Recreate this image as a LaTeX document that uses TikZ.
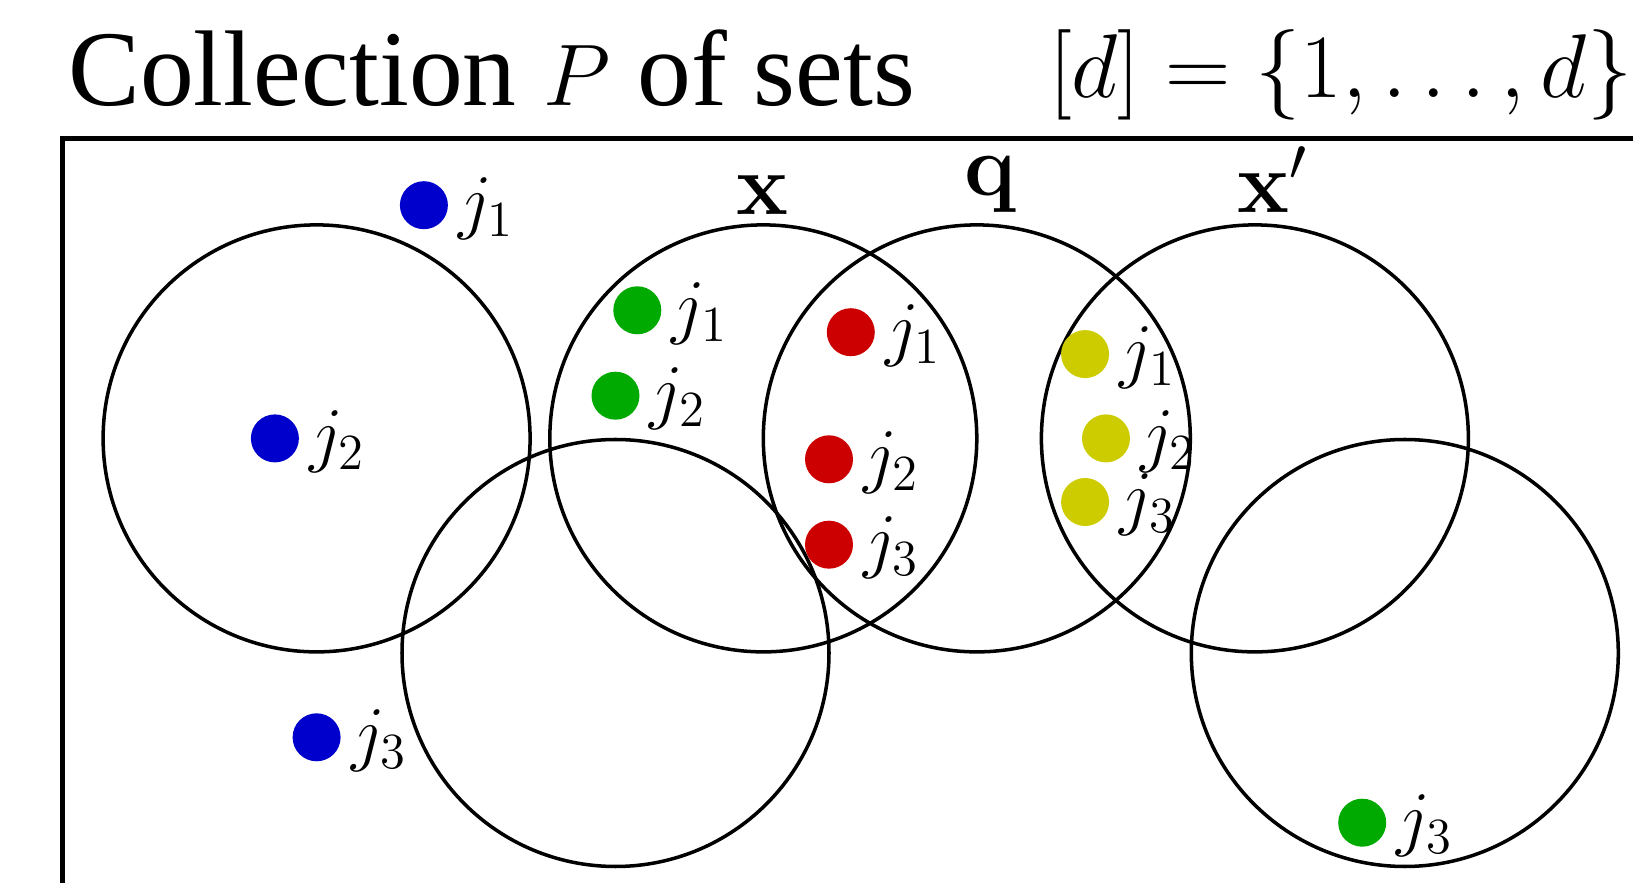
\documentclass[tikz,border=0pt]{standalone}
\usepackage{amsmath}
\usepackage{amssymb}
\usepackage[no-math]{fontspec}
\newfontfamily\titlefont{Liberation Serif}
\usepackage{xcolor}
\usetikzlibrary{positioning}
\definecolor{dotblue}{RGB}{0,0,204}
\definecolor{dotgreen}{RGB}{0,170,0}
\definecolor{dotred}{RGB}{204,0,0}
\definecolor{dotyellow}{RGB}{204,204,0}
\tikzset{
    setcircle/.style={draw, circle, line width=1pt, minimum size=4.27cm, inner sep=0pt},
    elem/.style={circle, inner sep=0pt, minimum size=0.48cm},
    elemlabel/.style={anchor=base west, inner sep=0pt, font=\fontsize{20}{24}\selectfont},
    setlabel/.style={anchor=south, inner sep=0pt, font=\fontsize{24}{28}\selectfont},
    titletext/.style={anchor=base west, inner sep=0pt, font=\titlefont\fontsize{30.6}{36}\selectfont},
    framel/.style={line width=1.2pt}
}
\newcommand{\elemat}[4]{% name, colour, position, index
    \node[elem, fill=#2] (#1) at (#3) {};
    \node[elemlabel] (l#1) at ([xshift=0.09cm, yshift=-0.20cm]#1.east) {$j_{#4}$};
}
\begin{document}
\begin{tikzpicture}
    \useasboundingbox (0,0) rectangle (16.33,8.83);

    \node[titletext] (title) at (0.677,7.77) {Collection $P$ of sets};
    \node[titletext, anchor=base east, font=\fontsize{29.4}{36}\selectfont, scale=1.035, transform shape] (dset) at (16.33,7.85) {$[d]=\{1,\ldots,d\}$};

    \coordinate (fbl) at (0.625,-0.2);
    \coordinate (ftr) at (16.6,7.445);
    \draw[framel] (fbl) |- (ftr);

    \node[setcircle] (cA) at (3.166,4.446) {};
    \node[setcircle] (cB) at (6.155,2.300) {};
    \node[setcircle] (cx) at (7.633,4.446) {};
    \node[setcircle] (cq) at (9.768,4.446) {};
    \node[setcircle] (cxp) at (12.549,4.446) {};
    \node[setcircle] (cF) at (14.048,2.300) {};

    \node[setlabel] (lx) at (7.625,6.68) {$\mathbf{x}$};
    \node[setlabel] (lq) at (9.90,6.70) {$\mathbf{q}$};
    \node[setlabel] (lxp) at (12.73,6.70) {$\mathbf{x}'$};

    \elemat{bone}{dotblue}{4.239,6.778}{1}
    \elemat{btwo}{dotblue}{2.749,4.446}{2}
    \elemat{bthree}{dotblue}{3.166,1.457}{3}

    \elemat{gone}{dotgreen}{6.373,5.727}{1}
    \elemat{gtwo}{dotgreen}{6.155,4.873}{2}
    \elemat{gthree}{dotgreen}{13.622,0.603}{3}

    \elemat{rone}{dotred}{8.508,5.508}{1}
    \elemat{rtwo}{dotred}{8.290,4.237}{2}
    \elemat{rthree}{dotred}{8.290,3.383}{3}

    \elemat{yone}{dotyellow}{10.851,5.289}{1}
    \elemat{ytwo}{dotyellow}{11.060,4.446}{2}
    \elemat{ythree}{dotyellow}{10.851,3.810}{3}
\end{tikzpicture}
\end{document}
